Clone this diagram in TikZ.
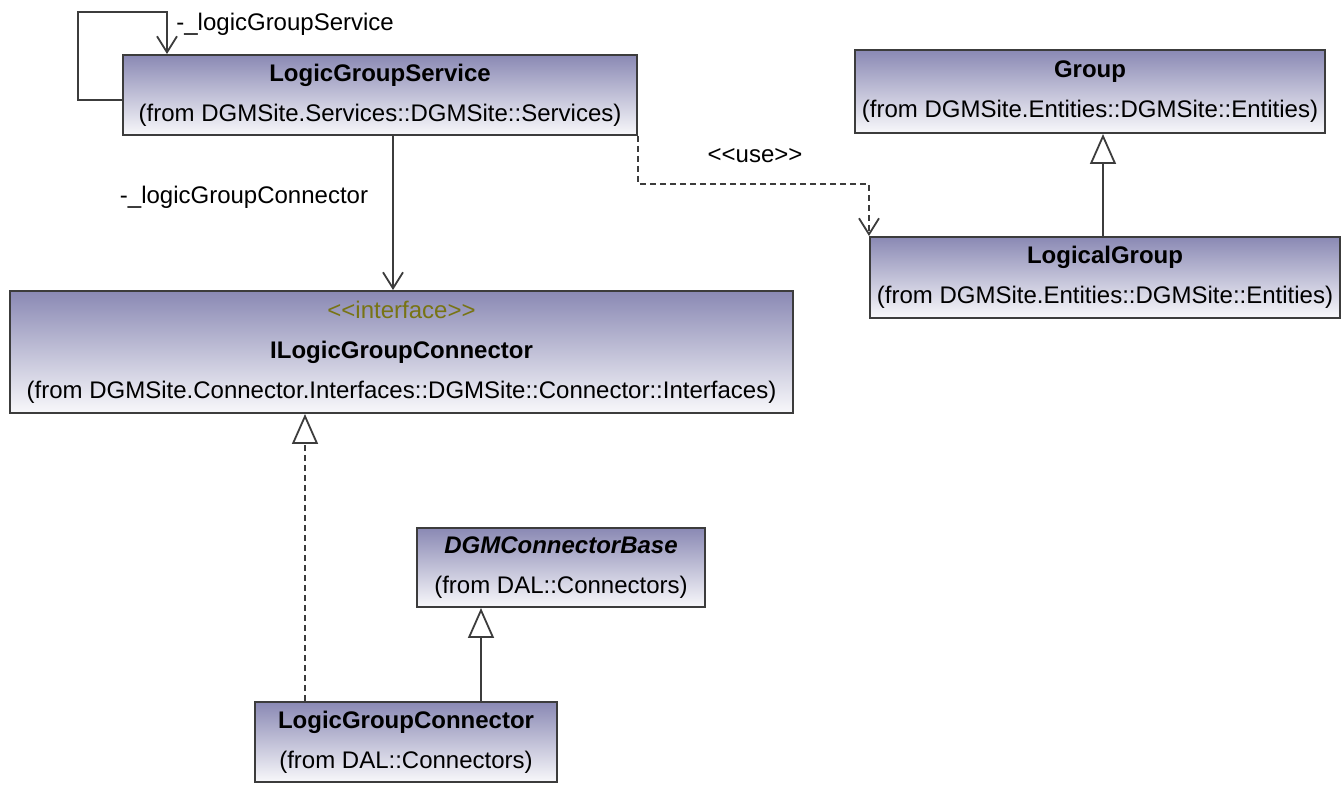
\documentclass[tikz,border=0pt]{standalone}
\usepackage{fontspec}
\setmainfont{Liberation Sans}
\usetikzlibrary{arrows.meta}
\definecolor{boxtop}{RGB}{138,137,180}
\definecolor{boxline}{RGB}{60,60,60}
\definecolor{stereo}{RGB}{120,116,20}
\newcommand{\guil}[1]{<\kern0pt<#1>\kern0pt>}
\begin{document}
\begin{tikzpicture}[x=0.5pt,y=-0.5pt]
                    \tikzset{every node/.style={font=\fontsize{12}{20}\selectfont, inner sep=0pt}}
                    \tikzset{umlclass/.style={draw=boxline, line width=1pt, top color=boxtop, bottom color=white!94!boxtop, align=center}}
                    \tikzset{assoc/.style={draw=boxline, line width=0.9pt, -{Straight Barb[length=8pt,width=10pt]}}}
                    \tikzset{dep/.style={assoc, dash pattern=on 3pt off 2pt}}
                    \tikzset{gen/.style={draw=boxline, line width=0.9pt, -{Triangle[length=15pt,width=13pt,fill=white]}}}
                    \tikzset{real/.style={gen, dash pattern=on 3pt off 2pt}}

                    \useasboundingbox (0,0) rectangle (1344,785);

                    \node[umlclass, minimum width=257pt, minimum height=40pt] (svc) at (380,95)
                        {\textbf{LogicGroupService}\\(from DGMSite.Services::DGMSite::Services)};
                    \node[umlclass, minimum width=235pt, minimum height=41.5pt] (grp) at (1090,91.5)
                        {\textbf{Group}\\(from DGMSite.Entities::DGMSite::Entities)};
                    \node[umlclass, minimum width=235pt, minimum height=40.5pt] (lgrp) at (1105,277.5)
                        {\textbf{LogicalGroup}\\(from DGMSite.Entities::DGMSite::Entities)};
                    \node[umlclass, minimum width=391.5pt, minimum height=61pt] (iface) at (401.5,352)
                        {{\color{stereo}\guil{interface}}\\\textbf{ILogicGroupConnector}\\(from DGMSite.Connector.Interfaces::DGMSite::Connector::Interfaces)};
                    \node[umlclass, minimum width=144pt, minimum height=39.5pt] (base) at (561,567.5)
                        {\textbf{\textit{DGMConnectorBase}}\\(from DAL::Connectors)};
                    \node[umlclass, minimum width=151pt, minimum height=40pt] (conn) at (406,742)
                        {\textbf{LogicGroupConnector}\\(from DAL::Connectors)};

                    \draw[assoc] ([yshift=-2.5pt]svc.west) -| (78,12) -| ([xshift=22.5pt]svc.north west);
                    \node[anchor=west] (svclbl) at (176,24) {-\_logicGroupService};

                    \draw[assoc] ([xshift=6.5pt]svc.south) -- ([xshift=6.5pt]svc.south |- iface.north);
                    \node (connlbl) at (244,197) {-\_logicGroupConnector};

                    \draw[dep] (svc.south east) -- ++(0,48) -| (lgrp.north west);
                    \node (uselbl) at (755,156) {\guil{use}};

                    \draw[gen] ([xshift=-1pt]lgrp.north) -- ([xshift=-1pt]lgrp.north |- grp.south);
                    \draw[real] ([xshift=-50.5pt]conn.north) -- ([xshift=-50.5pt]conn.north |- iface.south);
                    \draw[gen] ([xshift=37.5pt]conn.north) -- ([xshift=37.5pt]conn.north |- base.south);
                \end{tikzpicture}
\end{document}
